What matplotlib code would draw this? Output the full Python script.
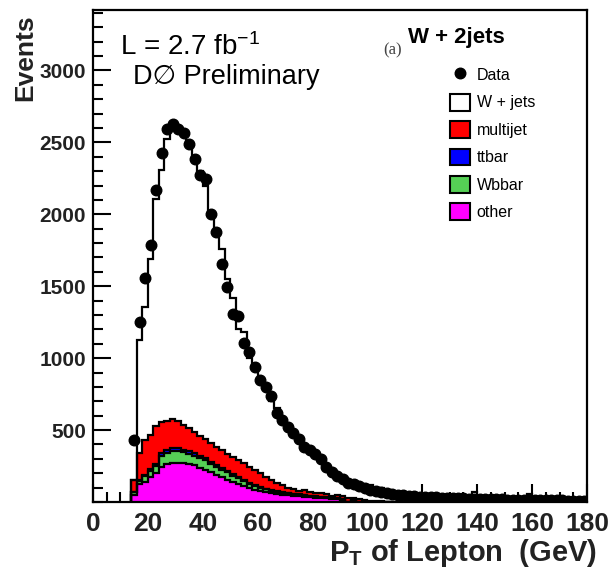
import numpy as np
import matplotlib
matplotlib.use("Agg")
import matplotlib.pyplot as plt
from matplotlib.patches import Patch
from matplotlib.lines import Line2D
from matplotlib.ticker import MultipleLocator

plt.rcParams['font.family'] = ['Liberation Sans', 'DejaVu Sans']
plt.rcParams['mathtext.default'] = 'regular'

# bin edges, 2 GeV wide from 14 to 180 GeV
bin_lo = 14
bin_hi = 180
bin_w = 2

data_events = [
    430, 1250, 1560, 1785, 2167, 2428, 2590, 2625, 2595, 2565,
    2492, 2385, 2275, 2245, 2005, 1880, 1651, 1495, 1306, 1292,
    1102, 1040, 937, 847, 798, 735, 616, 569, 523, 477,
    440, 382, 363, 332, 298, 240, 210, 184, 158, 135,
    122, 112, 98, 85, 74, 66, 60, 55, 50, 46,
    43, 40, 38, 36, 34, 32, 30, 29, 27, 26,
    25, 24, 23, 22, 21, 20, 19, 18, 17, 16,
    16, 15, 14, 14, 13, 12, 12, 11, 11, 10,
    10, 9, 9,
]

wjets = [
    0, 783, 926, 1227, 1583, 1748, 1960, 2054, 2035, 2023,
    1982, 1916, 1838, 1765, 1583, 1516, 1401, 1218, 1107, 911,
    912, 755, 707, 661, 619, 547, 516, 460, 420, 392,
    347, 315, 285, 263, 225, 200, 170, 140, 120, 110,
    100, 92, 86, 107, 70, 91, 57, 52, 48, 44,
    42, 39, 37, 35, 33, 31, 30, 28, 27, 26,
    25, 24, 70, 22, 21, 20, 19, 18, 17, 16,
    16, 15, 55, 14, 13, 12, 12, 11, 11, 10,
    25, 9, 9,
]

multijet = [
    81, 189, 241, 238, 265, 220, 204, 203, 192, 174,
    162, 146, 139, 132, 127, 127, 127, 120, 121, 116,
    116, 111, 106, 96, 79, 70, 60, 47, 38, 31,
    25, 32, 26, 23, 30, 23, 17, 25, 19, 27,
    14, 16, 10, 7, 5, 4, 3, 3, 2, 2,
    2, 1, 1, 1, 1, 1, 1, 1, 1, 1,
    0, 0, 0, 0, 0, 0, 0, 0, 0, 0,
    0, 0, 0, 0, 0, 0, 0, 0, 0, 0,
    0, 0, 0,
]

ttbar = [
    3, 6, 8, 10, 12, 15, 17, 18, 18, 18,
    17, 16, 15, 14, 13, 12, 11, 10, 9, 8,
    7, 6, 5, 5, 4, 4, 3, 3, 3, 2,
    2, 2, 2, 1, 1, 1, 1, 0, 0, 0,
    0, 0, 0, 0, 0, 0, 0, 0, 0, 0,
    0, 0, 0, 0, 0, 0, 0, 0, 0, 0,
    0, 0, 0, 0, 0, 0, 0, 0, 0, 0,
    0, 0, 0, 0, 0, 0, 0, 0, 0, 0,
    0, 0, 0,
]

wbbar = [
    20, 22, 40, 46, 45, 78, 80, 86, 86, 76,
    70, 67, 70, 67, 61, 57, 52, 52, 46, 42,
    36, 31, 26, 22, 20, 18, 16, 15, 13, 12,
    11, 10, 9, 8, 7, 6, 5, 5, 4, 3,
    3, 2, 2, 1, 1, 0, 0, 0, 0, 0,
    0, 0, 0, 0, 0, 0, 0, 0, 0, 0,
    0, 0, 0, 0, 0, 0, 0, 0, 0, 0,
    0, 0, 0, 0, 0, 0, 0, 0, 0, 0,
    0, 0, 0,
]

other = [
    49, 125, 141, 171, 204, 245, 264, 269, 269, 269,
    264, 255, 238, 222, 206, 188, 171, 153, 137, 123,
    109, 97, 86, 76, 68, 61, 55, 50, 46, 43,
    40, 36, 33, 30, 27, 25, 22, 20, 17, 0,
    8, 0, 0, 0, 0, 0, 0, 0, 0, 0,
    0, 0, 0, 0, 0, 0, 0, 0, 0, 0,
    0, 0, 0, 0, 0, 0, 0, 0, 0, 0,
    0, 0, 0, 0, 0, 0, 0, 0, 0, 0,
    0, 0, 0,
]

edges = np.arange(bin_lo, bin_hi + bin_w, bin_w)
centers = 0.5 * (edges[:-1] + edges[1:])

# stack from bottom up: other, Wbbar, ttbar, multijet, W+jets
stack = [
    ("other", other, "#ff00ff"),
    ("Wbbar", wbbar, "#55d055"),
    ("ttbar", ttbar, "#0000ff"),
    ("multijet", multijet, "#ff0000"),
    ("W + jets", wjets, "white"),
]

fig = plt.figure(figsize=(6.11, 5.76), dpi=100)
ax = fig.add_axes([0.1522, 0.1285, 0.8085, 0.8541])

cum = np.zeros(len(centers))
layers = []
for name, vals, col in stack:
    cum = cum + np.array(vals, dtype=float)
    layers.append((name, cum.copy(), col))

# draw the tallest first so lower ones sit on top
for name, vals, col in reversed(layers):
    ax.stairs(vals, edges, fill=True, facecolor=col, edgecolor="none", zorder=2)
    ax.stairs(vals, edges, baseline=0, color="black", linewidth=1.6, zorder=3)

ax.plot(centers, data_events, "o", color="black", markersize=7.6, zorder=5)

ax.set_xlim(0, 180)
ax.set_ylim(0, 3420)
ax.set_xticks(np.arange(0, 181, 20))
ax.set_yticks(np.arange(500, 3001, 500))
ax.xaxis.set_minor_locator(MultipleLocator(5))
ax.yaxis.set_minor_locator(MultipleLocator(100))
ax.tick_params(which="both", direction="in", top=False, right=False, width=1.5)
ax.tick_params(which="major", length=13)
ax.tick_params(which="minor", length=7)
ax.tick_params(axis="x", labelsize=19, pad=7)
ax.tick_params(axis="y", labelsize=15, pad=5)
for lab in ax.get_xticklabels() + ax.get_yticklabels():
    lab.set_fontweight("bold")
    lab.set_color("#222222")
for sp in ax.spines.values():
    sp.set_linewidth(1.6)

fig.text(0.977, 0.026, "P$_T$ of Lepton  (GeV)", ha="right", va="baseline",
         fontsize=21, fontweight="bold", color="#222222")
fig.text(0.042, 0.975, "Events", ha="center", va="top", rotation=90,
         fontsize=19, fontweight="bold", color="#222222")

fig.text(0.196, 0.905, "L = 2.7 fb$^{-1}$", ha="left", va="baseline", fontsize=20)
fig.text(0.217, 0.855, "D\u2205 Preliminary", ha="left", va="baseline",
         fontsize=19.5, family=["Liberation Sans", "DejaVu Sans"])
fig.text(0.667, 0.925, "W + 2jets", ha="left", va="baseline", fontsize=16, fontweight="bold")
fig.text(0.628, 0.905, "(a)", ha="left", va="baseline", fontsize=12,
         family="Liberation Serif", color="#444444")

handles = [Line2D([], [], marker="o", linestyle="none", color="black", markersize=7.6)]
labels = ["Data"]
for name, vals, col in reversed(layers):
    handles.append(Patch(facecolor=col, edgecolor="black", linewidth=1.5))
    labels.append(name)
ax.legend(handles, labels, loc="upper left", bbox_to_anchor=(0.737, 0.885),
          bbox_transform=fig.transFigure, frameon=False, fontsize=11.5,
          handlelength=1.25, handleheight=1.25, labelspacing=0.66,
          handletextpad=0.4, borderpad=0, borderaxespad=0)

fig.savefig("out.png", dpi=100)
